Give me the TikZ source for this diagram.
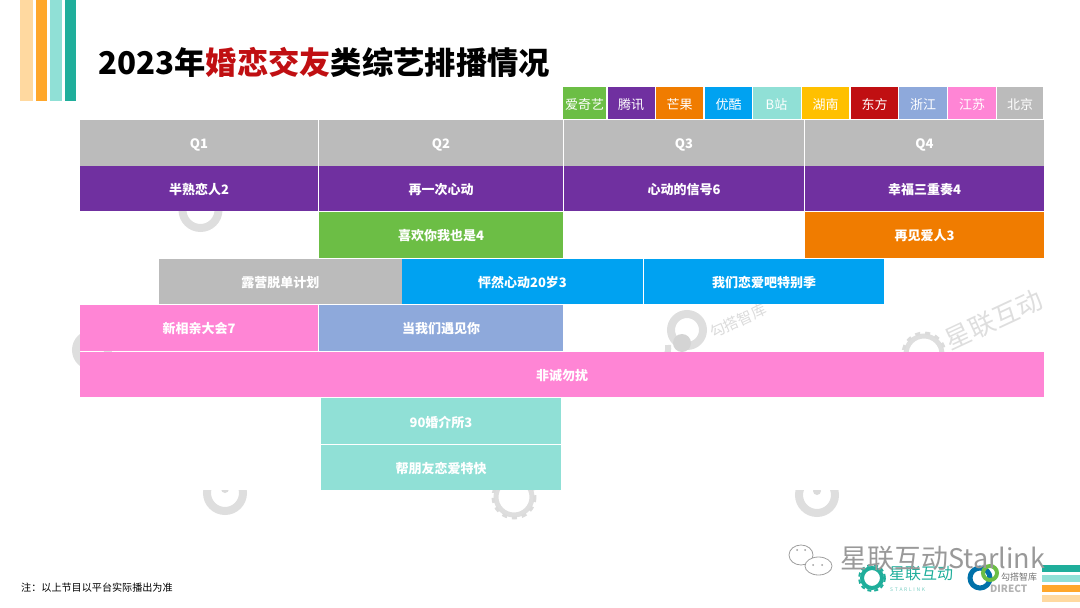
\documentclass[tikz,border=0pt]{standalone}
\usepackage{fontspec}
\setmainfont{Noto Sans CJK SC}
\tikzset{bar/.style = {shape=rectangle,inner sep=0pt,text=white,font=\bfseries\fontsize{13}{13}\selectfont,minimum height=45.5,text height=13,text depth=1}}
\tikzset{tag/.style = {shape=rectangle,inner sep=0pt,text=white,font=\fontsize{13}{13}\selectfont,minimum height=32,text height=13,text depth=1}}
\tikzset{stripe/.style = {shape=rectangle,inner sep=0pt,minimum width=11.5,minimum height=101}}
\tikzset{hstripe/.style = {shape=rectangle,inner sep=0pt,minimum width=38,minimum height=7}}
\tikzset{wring/.style = {line width=8,draw=black!13}}
\tikzset{wgear/.style = {line width=3,draw=black!14,dash pattern=on 5pt off 5pt}}
\tikzset{bubble/.style = {draw=black!38,fill=white,line width=0.8}}
\definecolor{igray}{HTML}{BBBBBB}
\definecolor{ipurple}{HTML}{7030A0}
\definecolor{igreen}{HTML}{6CBE45}
\definecolor{iorange}{HTML}{F07C00}
\definecolor{iblue}{HTML}{00A2F1}
\definecolor{imint}{HTML}{90E0D6}
\definecolor{iyellow}{HTML}{FFC000}
\definecolor{ired}{HTML}{C00F12}
\definecolor{islate}{HTML}{8EA9DB}
\definecolor{ipink}{HTML}{FF85D5}
\definecolor{ipeach}{HTML}{FFD9A0}
\definecolor{iamber}{HTML}{FFA72B}
\definecolor{iteal}{HTML}{1FAE9B}

\begin{document}
\begin{tikzpicture}[x=1pt,y=-1pt]
\useasboundingbox (0,0) rectangle (1080,608);

% corner stripes
\node[stripe,fill=ipeach,minimum width=12.5] (s1) at (26.25,50.5) {};
\node[stripe,fill=iamber,minimum width=11] (s2) at (41,50.5) {};
\node[stripe,fill=imint] (s3) at (55.75,50.5) {};
\node[stripe,fill=iteal,minimum width=11] (s4) at (70.5,50.5) {};

\node[hstripe,fill=iteal] (s5) at (1061,568.5) {};
\node[hstripe,fill=imint] (s6) at (1061,578.5) {};
\node[hstripe,fill=iamber] (s7) at (1061,588.5) {};
\node[hstripe,fill=ipeach] (s8) at (1061,598.5) {};

% watermarks
\draw[wring] (200.5,210) circle (18);
\draw[wring] (92,350) circle (16);
\draw[wring] (687,330) circle (16);
\fill[black!17] (682,343) circle (9);
\draw[wring,line width=6] (668,345) arc (170:215:-16);
\draw[wring,line width=5] (924,354) circle (18);
\draw[wgear] (924,354) circle (21);
\node[text=black!13,font=\fontsize{26}{26}\selectfont,rotate=25] (m1) at (994,320) {星联互动};
\node[text=black!14,font=\fontsize{15}{15}\selectfont,rotate=25] (m2) at (738,321) {勾搭智库};
\begin{scope}
\clip (0,490) rectangle (1080,608);
\draw[wring] (225,493) circle (18);
\fill[black!14] (225,489) circle (4);
\draw[wring] (817,495) circle (18);
\fill[black!14] (817,491) circle (4);
\end{scope}
\draw[wring,line width=5] (514,497) circle (18);
\draw[wgear] (514,497) circle (21);

% title
\node[anchor=west,inner sep=0pt,font=\bfseries\fontsize{31.3}{31.3}\selectfont] (title) at (98,62)
  {2023年\textcolor{ired}{婚恋交友}类综艺排播情况};

% legend
\node[tag,fill=igreen,minimum width=43] (aiqiyi) at (584.5,103) {爱奇艺};
\node[tag,fill=ipurple,minimum width=47] (tengxun) at (631,103) {腾讯};
\node[tag,fill=iorange,minimum width=47] (mangguo) at (679.5,103) {芒果};
\node[tag,fill=iblue,minimum width=47] (youku) at (728.5,103) {优酷};
\node[tag,fill=imint,minimum width=48] (bili) at (776.5,103) {B站};
\node[tag,fill=iyellow,minimum width=47] (hunan) at (825.5,103) {湖南};
\node[tag,fill=ired,minimum width=47] (dongfang) at (874.5,103) {东方};
\node[tag,fill=islate,minimum width=48] (zhejiang) at (923,103) {浙江};
\node[tag,fill=ipink,minimum width=48] (jiangsu) at (972,103) {江苏};
\node[tag,fill=igray,minimum width=46] (beijing) at (1020,103) {北京};

% quarters
\node[bar,fill=igray,minimum width=238.5] (q1) at (199,142.75) {Q1};
\node[bar,fill=igray,minimum width=244] (q2) at (441,142.75) {Q2};
\node[bar,fill=igray,minimum width=240] (q3) at (684,142.75) {Q3};
\node[bar,fill=igray,minimum width=239] (q4) at (924.5,142.75) {Q4};

% shows
\node[bar,fill=ipurple,minimum width=238.5] (bs) at (199,188.5) {半熟恋人2};
\node[bar,fill=ipurple,minimum width=244] (zy) at (441,188.5) {再一次心动};
\node[bar,fill=ipurple,minimum width=240] (xd) at (684,188.5) {心动的信号6};
\node[bar,fill=ipurple,minimum width=239] (xf) at (924.5,188.5) {幸福三重奏4};

\node[bar,fill=igreen,minimum width=244] (xh) at (441,234.75) {喜欢你我也是4};
\node[bar,fill=iorange,minimum width=239] (zj) at (924.5,234.75) {再见爱人3};

\node[bar,fill=igray,minimum width=242.5] (ly) at (280.25,281.25) {露营脱单计划};
\node[bar,fill=iblue,minimum width=241] (pr) at (522.5,281.25) {怦然心动20岁3};
\node[bar,fill=iblue,minimum width=240] (wm) at (764,281.25) {我们恋爱吧特别季};

\node[bar,fill=ipink,minimum width=238.5] (xq) at (199,327.75) {新相亲大会7};
\node[bar,fill=islate,minimum width=244] (dw) at (441,327.75) {当我们遇见你};

\node[bar,fill=ipink,minimum width=964] (fc) at (562,374.5) {非诚勿扰};

\node[bar,fill=imint,minimum width=240] (jj) at (441,421) {90婚介所3};
\node[bar,fill=imint,minimum width=240] (bp) at (441,467.5) {帮朋友恋爱特快};

% footer
\node[anchor=west,inner sep=0pt,font=\fontsize{10.1}{10.1}\selectfont] (note) at (21,587.5) {注：以上节目以平台实际播出为准};

% logos
\draw[line width=4,draw=iteal] (872,578) circle (10);
\draw[line width=2,draw=iteal,dash pattern=on 4pt off 3pt] (872,578) circle (13);
\node[anchor=west,inner sep=0pt,text=iteal,font=\fontsize{16}{16}\selectfont] (xl) at (889,574) {星联互动};
\node[anchor=west,inner sep=0pt,text=iteal!60,font=\fontsize{5}{5}\selectfont] (xs) at (890,590) {S\,\,T\,\,A\,\,R\,\,L\,\,I\,\,N\,\,K};
\draw[line width=5,draw=iblue!70!black] (980,578) circle (10);
\draw[line width=4,draw=igreen] (990,573) circle (7);
\node[anchor=west,inner sep=0pt,text=black!55,font=\fontsize{9}{9}\selectfont] (gd) at (1001,577) {勾搭智库};
\node[anchor=west,inner sep=0pt,text=black!30,font=\bfseries\fontsize{10}{10}\selectfont] (dr) at (990,589) {DIRECT};

% wechat mark
\draw[bubble] (801,555) ellipse (12 and 10);
\draw[bubble] (818.5,566) ellipse (13.5 and 9);
\fill[black!38] (797,550) circle (1) (805,550) circle (1) (813,565) circle (1) (822,565) circle (1);
\node[anchor=west,inner sep=0pt,text=black!40,font=\fontsize{27}{27}\selectfont] (wx) at (840,559) {星联互动Starlink};
\end{tikzpicture}
\end{document}
